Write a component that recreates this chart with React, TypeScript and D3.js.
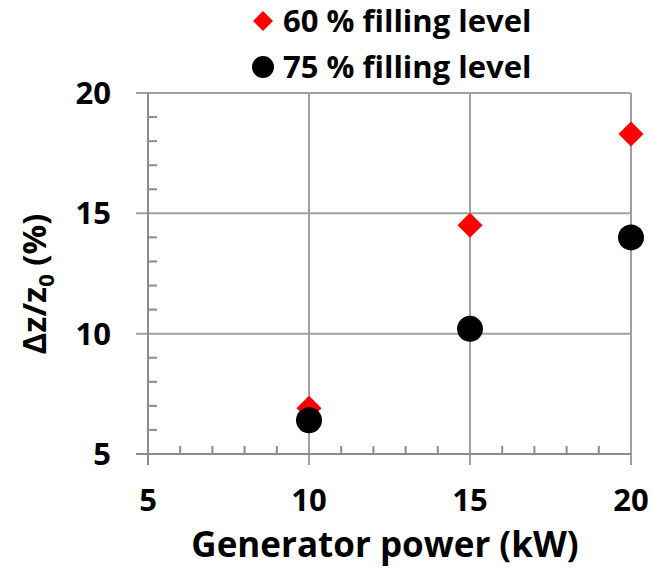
import React from "react";
import * as d3 from "d3";

const power = [10, 15, 20];
const fill60 = [6.9, 14.5, 18.3];
const fill75 = [6.4, 10.2, 14.0];
const majorTicks = [5, 10, 15, 20];
const seriesNames = ["60 % filling level", "75 % filling level"];

const W = 652, H = 571;
const L = 148, R = 631, T = 93, B = 454;
const FONT = "'Open Sans', 'Liberation Sans', sans-serif";

export default function App() {
  const x = d3.scaleLinear().domain([5, 20]).range([L, R]);
  const y = d3.scaleLinear().domain([5, 20]).range([B, T]);
  const minor = d3.range(5, 21, 1).filter((v) => v % 5 !== 0);
  const dPath = (s: number) => `M0,${-s}L${s},0L0,${s}L${-s},0Z`;
  const gridColor = "#a0a0a0";
  const axisColor = "#8c8c8c";
  return (
    <svg width={W} height={H} style={{ position: "absolute", left: 0, top: 0 }}>
      <rect width={W} height={H} fill="#fff" />
      {/* gridlines */}
      {majorTicks.filter((v) => v > 5).map((v) => (
        <line key={"gx" + v} x1={x(v)} x2={x(v)} y1={T} y2={B + 11} stroke={gridColor} strokeWidth={2} />
      ))}
      {majorTicks.filter((v) => v > 5).map((v) => (
        <line key={"gy" + v} x1={L - 12} x2={R} y1={y(v)} y2={y(v)} stroke={gridColor} strokeWidth={2} />
      ))}
      {/* axes */}
      <line x1={L} x2={L} y1={T} y2={B + 11} stroke={axisColor} strokeWidth={2} />
      <line x1={L - 12} x2={R} y1={B} y2={B} stroke={axisColor} strokeWidth={2} />
      {minor.map((v) => (
        <line key={"mx" + v} x1={x(v)} x2={x(v)} y1={B} y2={B - 8} stroke={axisColor} strokeWidth={2} />
      ))}
      {minor.map((v) => (
        <line key={"my" + v} x1={L} x2={L + 9} y1={y(v)} y2={y(v)} stroke={axisColor} strokeWidth={2} />
      ))}
      {/* tick labels */}
      {majorTicks.map((v) => (
        <text key={"tx" + v} x={x(v)} y={B + 57} textAnchor="middle" fontFamily={FONT} fontWeight="bold" fontSize={31} fill="#000">
          {v}
        </text>
      ))}
      {majorTicks.map((v) => (
        <text key={"ty" + v} x={L - 37} y={y(v) + 11} textAnchor="end" fontFamily={FONT} fontWeight="bold" fontSize={31} fill="#000">
          {v}
        </text>
      ))}
      {/* axis titles */}
      <text x={385} y={557} textAnchor="middle" fontFamily={FONT} fontWeight="bold" fontSize={35} fill="#000">
        Generator power (kW)
      </text>
      <text transform={`translate(46,284) rotate(-90)`} textAnchor="middle" fontFamily={FONT} fontWeight="bold" fontSize={33} fill="#000">
        Δz/z<tspan fontSize={22} dy={8}>0</tspan><tspan dy={-8}> (%)</tspan>
      </text>
      {/* data */}
      {power.map((p, i) => (
        <path key={"d" + i} d={dPath(12.5)} transform={`translate(${x(p)},${y(fill60[i])})`} fill="#ff0000" />
      ))}
      {power.map((p, i) => (
        <circle key={"c" + i} cx={x(p)} cy={y(fill75[i])} r={13} fill="#000" />
      ))}
      {/* legend */}
      <path d={dPath(10)} transform="translate(263,21)" fill="#ff0000" />
      <text x={283} y={32} fontFamily={FONT} fontWeight="bold" fontSize={31} fill="#000">{seriesNames[0]}</text>
      <circle cx={263} cy={67} r={11} fill="#000" />
      <text x={283} y={78} fontFamily={FONT} fontWeight="bold" fontSize={31} fill="#000">{seriesNames[1]}</text>
    </svg>
  );
}
